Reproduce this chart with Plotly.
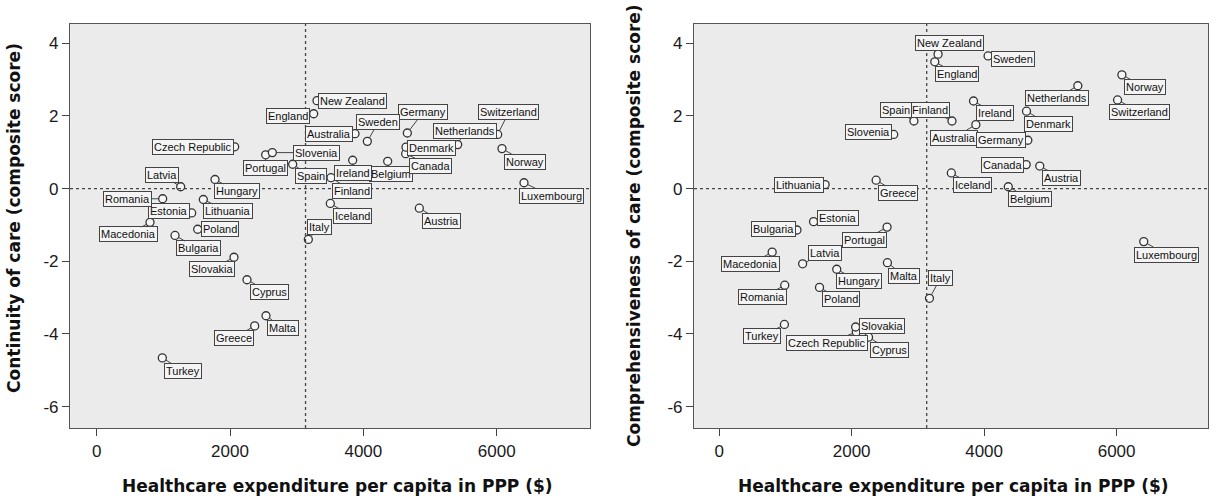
import plotly.graph_objects as go
import numpy as np

countries = ["Australia", "Austria", "Belgium", "Bulgaria", "Canada", "Cyprus",
             "Czech Republic", "Denmark", "England", "Estonia", "Finland", "Germany",
             "Greece", "Hungary", "Iceland", "Ireland", "Italy", "Latvia", "Lithuania",
             "Luxembourg", "Macedonia", "Malta", "Netherlands", "New Zealand", "Norway",
             "Poland", "Portugal", "Romania", "Slovakia", "Slovenia", "Spain", "Sweden",
             "Switzerland", "Turkey"]

expenditure = [3875, 4840, 4365, 1175, 4635, 2255, 2070, 4640, 3255, 1425, 3515, 4660,
               2370, 1775, 3505, 3840, 3175, 1260, 1600, 6410, 800, 2540, 5415, 3305,
               6080, 1515, 2535, 990, 2060, 2635, 2940, 4060, 6015, 985]

continuity = [1.51, -0.54, 0.75, -1.29, 0.96, -2.51, 1.15, 1.14, 2.06, -0.67, 0.30, 1.53,
              -3.78, 0.25, -0.41, 0.78, -1.40, 0.05, -0.30, 0.16, -0.93, -3.50, 1.21, 2.42,
              1.10, -1.12, 0.93, -0.28, -1.89, 0.99, 0.67, 1.30, 1.49, -4.66]

comprehensiveness = [1.76, 0.62, 0.05, -1.14, 0.66, -4.09, -3.95, 2.13, 3.49, -0.91, 1.86,
                     1.33, 0.23, -2.22, 0.43, 2.41, -3.02, -2.07, 0.11, -1.46, -1.75, -2.04,
                     2.83, 3.70, 3.13, -2.72, -1.06, -2.66, -3.81, 1.49, 1.86, 3.65, 2.44,
                     -3.74]

x_ticks = [0, 2000, 4000, 6000]
x_tick_labels = ["0", "2000", "4000", "6000"]
y_ticks = [-6, -4, -2, 0, 2, 4]
y_tick_labels = ["-6", "-4", "-2", "0", "2", "4"]

x_title = "Healthcare expenditure per capita in PPP ($)"
y_title_left = "Continuity of care (composite score)"
y_title_right = "Comprehensiveness of care (composite score)"

# label box offsets (pixels) relative to each point
left_offsets = {
    "Austria": (22, 13), "Australia": (-26, 0), "Belgium": (3, 13), "Bulgaria": (23, 13),
    "Canada": (25, 12), "Cyprus": (22, 12), "Czech Republic": (-42, 0), "Denmark": (25, 1),
    "England": (-26, 2), "Estonia": (-23, -2), "Finland": (21, 13), "Germany": (16, -21),
    "Greece": (-21, 12), "Hungary": (22, 12), "Iceland": (22, 13), "Ireland": (0, 13),
    "Italy": (11, -12), "Latvia": (-19, -12), "Lithuania": (25, 12), "Luxembourg": (27, 13),
    "Macedonia": (-22, 12), "Malta": (17, 12), "Netherlands": (7, -14), "New Zealand": (35, 0),
    "Norway": (23, 13), "Poland": (22, 0), "Portugal": (0, 13), "Romania": (-35, 0),
    "Slovakia": (-22, 12), "Slovenia": (44, 0), "Spain": (18, 12), "Sweden": (11, -19),
    "Switzerland": (11, -22), "Turkey": (21, 13),
}
right_offsets = {
    "Austria": (22, 12), "Australia": (-22, 13), "Belgium": (22, 12), "Bulgaria": (-24, -1),
    "Canada": (-24, 0), "Cyprus": (21, 13), "Czech Republic": (-29, 11), "Denmark": (22, 13),
    "England": (22, 12), "Estonia": (24, -4), "Finland": (-22, -11), "Germany": (-27, 0),
    "Greece": (22, 13), "Hungary": (22, 12), "Iceland": (21, 12), "Ireland": (21, 12),
    "Italy": (11, -20), "Latvia": (22, -11), "Lithuania": (-26, 0), "Luxembourg": (23, 13),
    "Macedonia": (-22, 12), "Malta": (17, 13), "Netherlands": (-21, 12), "New Zealand": (11, -11),
    "Norway": (23, 12), "Poland": (21, 12), "Portugal": (-23, 13), "Romania": (-22, 12),
    "Slovakia": (26, -1), "Slovenia": (-25, -2), "Spain": (-18, -11), "Sweden": (25, 3),
    "Switzerland": (22, 12), "Turkey": (-22, 12),
}

W, H = 1217, 503
BG = "#ebebeb"
FRAME = "#555555"
TXT = "#1a1a1a"

mean_exp = float(np.mean(expenditure))

fig = go.Figure()
marker = dict(symbol="circle", size=8, color="#f6f6f6", line=dict(color="#333333", width=1.3))
fig.add_trace(go.Scatter(x=expenditure, y=continuity, mode="markers", marker=marker,
                         xaxis="x", yaxis="y", showlegend=False, hoverinfo="text", text=countries))
fig.add_trace(go.Scatter(x=expenditure, y=comprehensiveness, mode="markers", marker=marker,
                         xaxis="x2", yaxis="y2", showlegend=False, hoverinfo="text", text=countries))

ydom = [1 - 428 / H, 1 - 24 / H]
axis_common = dict(showgrid=False, zeroline=False, showline=True, mirror=True,
                   linecolor=FRAME, linewidth=1.2, ticks="outside", ticklen=7,
                   tickcolor="#444444", tickwidth=1.2,
                   tickfont=dict(family="Liberation Sans, Arial", size=17, color=TXT))

fig.update_layout(
    width=W, height=H,
    margin=dict(l=0, r=0, t=0, b=0),
    paper_bgcolor="white",
    plot_bgcolor=BG,
    xaxis=dict(domain=[70 / W, 590 / W], range=[-400, 7400], tickvals=x_ticks,
               ticktext=x_tick_labels, anchor="y", **axis_common),
    yaxis=dict(domain=ydom, range=[-6.59, 4.53], tickvals=y_ticks, ticktext=y_tick_labels,
               anchor="x", **axis_common),
    xaxis2=dict(domain=[694 / W, 1208 / W], range=[-380, 7380], tickvals=x_ticks,
                ticktext=x_tick_labels, anchor="y2", **axis_common),
    yaxis2=dict(domain=ydom, range=[-6.59, 4.53], tickvals=y_ticks, ticktext=y_tick_labels,
                anchor="x2", **axis_common),
)

# reference lines
for xr, yr in (("x", "y"), ("x2", "y2")):
    fig.add_shape(type="line", xref=xr, yref=f"{yr} domain", x0=mean_exp, x1=mean_exp, y0=0, y1=1,
                  line=dict(color="#444444", width=1.3, dash="dot"))
    fig.add_shape(type="line", xref=f"{xr} domain", yref=yr, x0=0, x1=1, y0=0, y1=0,
                  line=dict(color="#444444", width=1.3, dash="dot"))

annotations = []
label_style = dict(showarrow=True, arrowhead=0, arrowwidth=1, arrowcolor="#444444",
                   standoff=4, font=dict(family="Liberation Sans, Arial", size=11, color="#111111"),
                   bordercolor="#444444", borderwidth=1, borderpad=1, bgcolor="#f4f4f4")
for i, c in enumerate(countries):
    ax, ay = left_offsets[c]
    annotations.append(dict(x=expenditure[i], y=continuity[i], xref="x", yref="y",
                            text=c, ax=ax, ay=ay, **label_style))
    ax, ay = right_offsets[c]
    annotations.append(dict(x=expenditure[i], y=comprehensiveness[i], xref="x2", yref="y2",
                            text=c, ax=ax, ay=ay, **label_style))

title_font = dict(family="DejaVu Sans, Verdana", size=17, color="#111111")
annotations += [
    dict(text=f"<b>{x_title}</b>", x=337 / W, y=1 - 486 / H, xref="paper", yref="paper",
         showarrow=False, font=title_font, xanchor="center", yanchor="middle"),
    dict(text=f"<b>{x_title}</b>", x=953 / W, y=1 - 486 / H, xref="paper", yref="paper",
         showarrow=False, font=title_font, xanchor="center", yanchor="middle"),
    dict(text=f"<b>{y_title_left}</b>", x=14 / W, y=1 - 218 / H, xref="paper", yref="paper",
         showarrow=False, font=title_font, textangle=-90, xanchor="center", yanchor="middle"),
    dict(text=f"<b>{y_title_right}</b>", x=634 / W, y=1 - 226 / H, xref="paper", yref="paper",
         showarrow=False, font=title_font, textangle=-90, xanchor="center", yanchor="middle"),
]
fig.update_layout(annotations=annotations)

fig.write_html("out.html", config={"displayModeBar": False},
               post_script="document.body.style.margin='0';document.body.style.overflow='hidden';")
